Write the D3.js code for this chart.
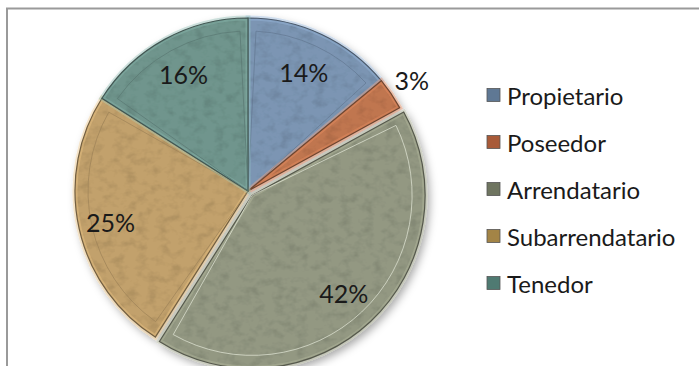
<!DOCTYPE html>
<html><head><meta charset="utf-8">
<script src="https://cdn.jsdelivr.net/npm/d3@7"></script>
<style>html,body{margin:0;padding:0;background:#fff;overflow:hidden}</style>
</head><body>
<svg id="chart" width="699" height="366"></svg>
<script>
const categories = ["Propietario","Poseedor","Arrendatario","Subarrendatario","Tenedor"];
const values = [14, 3, 42, 25, 16];
const labels = ["14%","3%","42%","25%","16%"];
const colors = ["#7b95b3","#c07650","#939882","#c2a16c","#6f958d"];
const legendColors = ["#5f7894","#a85a38","#6f7560","#a38446","#4f7a72"];
const exploded = [0, 0, 6, 0, 0];

const svg = d3.select("#chart");
const cx = 248, cy = 191, R = 173;
const font = "Lato, 'Open Sans', sans-serif";

// frame
svg.append("rect").attr("x", 7).attr("y", 8.5).attr("width", 720).attr("height", 400)
  .attr("fill", "#fff").attr("stroke", "#9a9a9a").attr("stroke-width", 2);

const defs = svg.append("defs");
const shadow = defs.append("filter").attr("id", "shadow").attr("x", "-20%").attr("y", "-20%").attr("width", "140%").attr("height", "140%");
shadow.append("feDropShadow").attr("dx", 3).attr("dy", 4).attr("stdDeviation", 4).attr("flood-color", "#000").attr("flood-opacity", 0.35);

const tex = defs.append("filter").attr("id", "tex").attr("x", 0).attr("y", 0).attr("width", "100%").attr("height", "100%");
tex.append("feTurbulence").attr("type", "fractalNoise").attr("baseFrequency", "0.09 0.12").attr("numOctaves", 3).attr("seed", 4).attr("result", "noise");
tex.append("feColorMatrix").attr("in", "noise").attr("type", "matrix")
  .attr("values", "0 0 0 0 0  0 0 0 0 0  0 0 0 0 0  0 0 0 -2.6 1.45").attr("result", "dark");
tex.append("feComposite").attr("in", "dark").attr("in2", "SourceGraphic").attr("operator", "in").attr("result", "darkIn");
tex.append("feComponentTransfer").attr("in", "darkIn").attr("result", "darkSoft")
  .append("feFuncA").attr("type", "linear").attr("slope", 0.2);
const mg = tex.append("feMerge");
mg.append("feMergeNode").attr("in", "SourceGraphic");
mg.append("feMergeNode").attr("in", "darkSoft");

const pie = d3.pie().sort(null).value(d => d)(values);
const arc = d3.arc().innerRadius(0).outerRadius(R);
const innerArc = d3.arc().innerRadius(0).outerRadius(R - 13);

const g = svg.append("g").attr("transform", `translate(${cx},${cy})`);
const slices = g.append("g").attr("filter", "url(#shadow)");

pie.forEach((p, i) => {
  const mid = (p.startAngle + p.endAngle) / 2;
  const off = exploded[i];
  const sg = slices.append("g").attr("transform", `translate(${Math.sin(mid) * off},${-Math.cos(mid) * off})`);
  sg.append("path").attr("d", arc(p)).attr("fill", colors[i]).attr("filter", "url(#tex)");
  sg.append("path").attr("d", arc(p)).attr("fill", "none")
    .attr("stroke", d3.color(colors[i]).brighter(0.6)).attr("stroke-opacity", 0.4).attr("stroke-width", 5);
  sg.append("path").attr("d", arc(p)).attr("fill", "none")
    .attr("stroke", d3.color(colors[i]).darker(1.5)).attr("stroke-width", 1.2);
  const ip = {startAngle: p.startAngle + 0.05, endAngle: p.endAngle - 0.05};
  if (p.endAngle - p.startAngle > 0.3) {
    sg.append("path").attr("d", innerArc(ip)).attr("fill", "none")
      .attr("stroke", i === 2 ? "#e4e8d8" : d3.color(colors[i]).darker(0.6))
      .attr("stroke-opacity", 0.7).attr("stroke-width", 1);
  }
});

// labels
const labelR = [131, 198, 140, 141, 134];
pie.forEach((p, i) => {
  const mid = (p.startAngle + p.endAngle) / 2;
  g.append("text").attr("x", Math.sin(mid) * labelR[i]).attr("y", -Math.cos(mid) * labelR[i])
    .attr("text-anchor", "middle").attr("dominant-baseline", "central")
    .attr("font-family", font).attr("font-size", 25).attr("fill", "#1a1a1a").text(labels[i]);
});

// legend
const ly = d3.scalePoint().domain(categories).range([95, 283]);
const lg = svg.append("g");
categories.forEach((c, i) => {
  const y = ly(c);
  lg.append("rect").attr("x", 487).attr("y", y - 6.5).attr("width", 13).attr("height", 13)
    .attr("fill", legendColors[i]).attr("stroke", "#555").attr("stroke-width", 0.8);
  lg.append("text").attr("x", 507).attr("y", y).attr("dominant-baseline", "central")
    .attr("font-family", font).attr("font-size", 24).attr("fill", "#1a1a1a").text(c);
});
</script>
</body></html>
